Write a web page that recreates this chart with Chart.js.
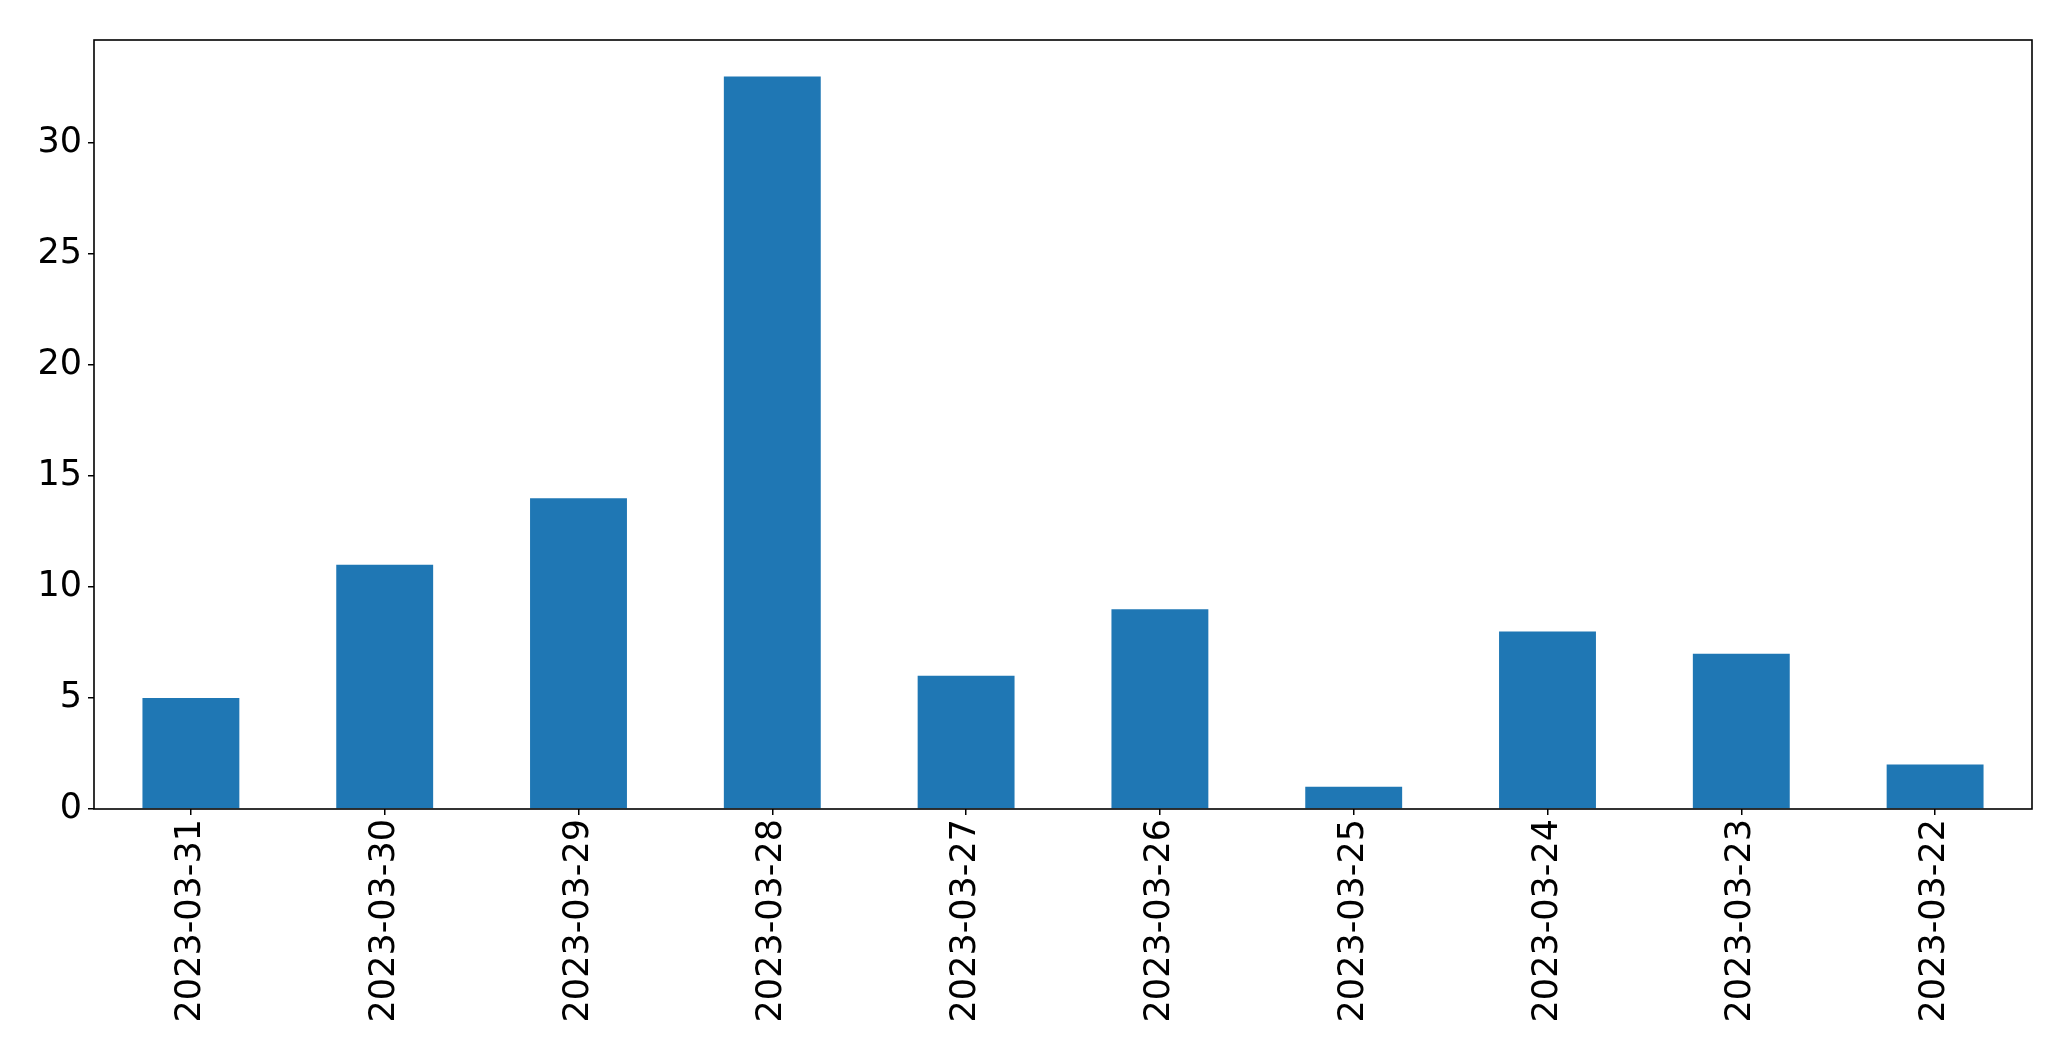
<!DOCTYPE html>
<html>
<head>
<meta charset="utf-8">
<script src="https://cdn.jsdelivr.net/npm/chart.js@4/dist/chart.umd.min.js"></script>
<style>
  html, body { margin: 0; padding: 0; background: #fff; }
  #wrap { width: 2071px; height: 1061px; }
</style>
</head>
<body>
<div id="wrap"><canvas id="barChart" width="2071" height="1061"></canvas></div>
<script>
// counts per day, newest first (as in the source plot)
const dates = ['2023-03-31', '2023-03-30', '2023-03-29', '2023-03-28', '2023-03-27',
               '2023-03-26', '2023-03-25', '2023-03-24', '2023-03-23', '2023-03-22'];
const counts = [5, 11, 14, 33, 6, 9, 1, 8, 7, 2];
const yTicks = [0, 5, 10, 15, 20, 25, 30];

// matplotlib-style box around the plot area
const frame = {
    id: 'frame',
    afterDraw(chart) {
        const a = chart.chartArea;
        const ctx = chart.ctx;
        ctx.save();
        ctx.strokeStyle = '#000';
        ctx.lineWidth = 1.6;
        ctx.strokeRect(a.left, a.top, a.right - a.left, a.bottom - a.top);
        ctx.restore();
    }
};

const tickFont = { family: 'DejaVu Sans', size: 35 };

const config = {
    type: 'bar',
    data: {
        labels: dates,
        datasets: [{
            data: counts,
            backgroundColor: '#1f77b4',
            borderWidth: 0,
            barPercentage: 0.5,
            categoryPercentage: 1.0
        }]
    },
    options: {
        responsive: false,
        animation: false,
        layout: { padding: { top: 40, right: 39, left: 0, bottom: 0 } },
        plugins: { legend: { display: false }, tooltip: { enabled: false } },
        scales: {
            x: {
                offset: true,
                grid: { display: true, drawOnChartArea: false, drawTicks: true, tickLength: 6, lineWidth: 1.5, color: '#000', offset: false },
                border: { display: false },
                ticks: { color: '#000', font: tickFont, minRotation: 90, maxRotation: 90, padding: 4 },
                afterFit(scale) { scale.height = 252; }
            },
            y: {
                min: 0,
                max: 34.65,
                afterBuildTicks(scale) { scale.ticks = yTicks.map(v => ({ value: v })); },
                grid: { display: true, drawOnChartArea: false, drawTicks: true, tickLength: 6, lineWidth: 1.5, color: '#000' },
                border: { display: false },
                ticks: { color: '#000', font: tickFont, padding: 6 },
                afterFit(scale) { scale.width = 94; }
            }
        }
    },
    plugins: [frame]
};

const myChart = new Chart(document.getElementById('barChart'), config);
</script>
</body>
</html>
